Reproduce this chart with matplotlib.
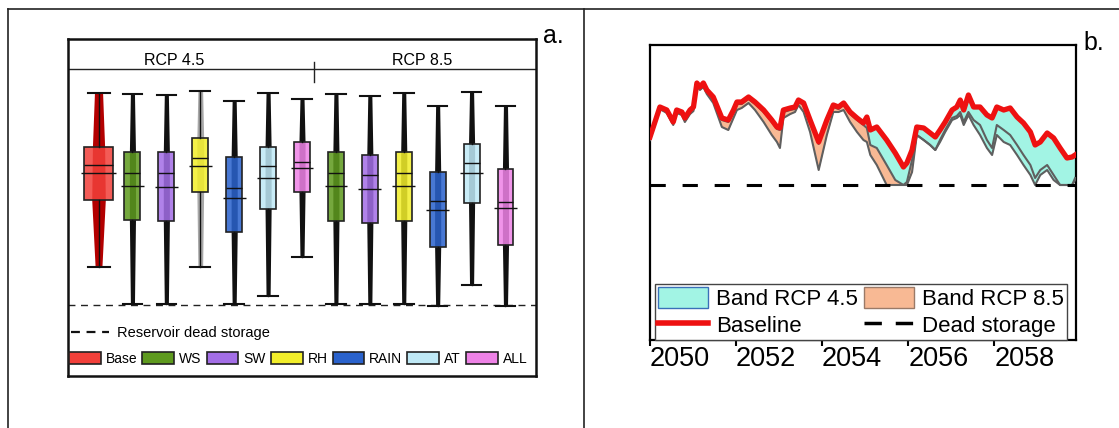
import matplotlib
matplotlib.use('Agg')
import matplotlib.pyplot as plt
from matplotlib.lines import Line2D
from matplotlib.patches import Patch
import numpy as np

plt.rcParams['font.family'] = ['Liberation Sans', 'DejaVu Sans']

# ---------------- Panel a data (storage, arbitrary units) ----------------
box_vars = ['Base', 'WS', 'SW', 'RH', 'RAIN', 'AT', 'ALL',
            'WS', 'SW', 'RH', 'RAIN', 'AT', 'ALL']
whishi = [283, 282, 281, 285, 275, 283, 277, 282, 280, 283, 270, 284, 270]
q3     = [229, 224, 224, 238, 219, 229, 234, 224, 221, 224, 204, 232, 207]
med    = [211, 203, 203, 218, 188, 210, 214, 203, 201, 203, 175, 213, 174]
mean   = [203, 190, 189, 210, 178, 198, 208, 190, 187, 190, 166, 203, 168]
q1     = [176, 156, 155, 184, 144, 167, 184, 155, 153, 155, 129, 173, 131]
whislo = [109, 72, 72, 109, 72, 80, 119, 72, 72, 72, 70, 91, 70]
dead_storage_a = 71
legend_vars = ['Base', 'WS', 'SW', 'RH', 'RAIN', 'AT', 'ALL']
group_labels = ['RCP 4.5', 'RCP 8.5']

# ---------------- Panel b data ----------------
years = [2050.00, 2050.23, 2050.39, 2050.54, 2050.62, 2050.74, 2050.81, 2050.93,
         2051.01, 2051.09, 2051.16, 2051.24, 2051.32, 2051.47, 2051.67, 2051.82,
         2051.94, 2052.02, 2052.13, 2052.29, 2052.44, 2052.64, 2052.83, 2052.95,
         2053.02, 2053.10, 2053.26, 2053.37, 2053.45, 2053.57, 2053.72, 2053.92,
         2054.11, 2054.26, 2054.38, 2054.50, 2054.65, 2054.81, 2054.96, 2055.04,
         2055.12, 2055.27, 2055.50, 2055.70, 2055.89, 2055.97, 2056.09, 2056.20,
         2056.36, 2056.51, 2056.63, 2056.74, 2056.86, 2057.02, 2057.13, 2057.21,
         2057.29, 2057.40, 2057.52, 2057.67, 2057.83, 2057.95, 2058.06, 2058.22,
         2058.37, 2058.53, 2058.68, 2058.84, 2058.95, 2059.07, 2059.23, 2059.38,
         2059.53, 2059.69, 2059.81, 2059.88]
baseline = [203, 233, 230, 218, 230, 228, 222, 230, 233, 257, 253, 257, 250, 243,
            222, 220, 230, 238, 238, 243, 238, 230, 220, 213, 212, 230, 232, 233,
            240, 237, 220, 198, 220, 235, 233, 237, 228, 222, 217, 223, 210, 213,
            200, 187, 173, 177, 190, 213, 212, 207, 203, 210, 218, 230, 233, 240,
            230, 245, 233, 233, 225, 222, 233, 230, 232, 223, 217, 208, 195, 198,
            207, 202, 192, 182, 183, 185]
lower_45 = [201, 231, 228, 216, 228, 226, 220, 228, 231, 255, 251, 255, 248, 241,
            220, 218, 228, 236, 236, 241, 236, 228, 218, 211, 210, 228, 230, 231,
            238, 235, 218, 196, 218, 233, 231, 235, 226, 220, 215, 212, 195, 192,
            175, 160, 155, 158, 180, 205, 200, 195, 190, 198, 208, 220, 222, 225,
            215, 225, 215, 205, 192, 185, 205, 198, 195, 185, 175, 165, 155, 165,
            170, 160, 155, 155, 155, 162]
lower_85 = [200, 231, 227, 215, 227, 225, 218, 226, 229, 254, 250, 253, 246, 237,
            213, 210, 222, 230, 232, 237, 230, 218, 205, 198, 192, 222, 226, 228,
            235, 228, 208, 170, 205, 228, 228, 230, 218, 208, 200, 198, 185, 175,
            155, 155, 155, 155, 168, 205, 200, 195, 190, 200, 210, 222, 224, 228,
            218, 228, 220, 215, 200, 192, 215, 210, 205, 195, 185, 175, 162, 170,
            175, 165, 155, 155, 155, 160]
dead_storage_b = 155
year_ticks = [2050, 2052, 2054, 2056, 2058]

# ---------------- styles ----------------
var_colors = {'Base': '#f2403a', 'WS': '#5e9a1e', 'SW': '#a36ee6', 'RH': '#f2ee2a',
              'RAIN': '#2a62cc', 'AT': '#bfe9f6', 'ALL': '#ee82e6'}

fig = plt.figure(figsize=(11.19, 4.28), dpi=100)

# outer table lines
fig.add_artist(Line2D([8 / 1119, 1], [1 - 9 / 428, 1 - 9 / 428], color='#222222', lw=1.2))
fig.add_artist(Line2D([8 / 1119, 8 / 1119], [0, 1 - 9 / 428], color='#222222', lw=1.2))
fig.add_artist(Line2D([584 / 1119, 584 / 1119], [0, 1 - 9 / 428], color='#222222', lw=1.2))

# ---------------- Panel a ----------------
ax1 = fig.add_axes([68 / 1119, 52 / 428, 468 / 1119, 337 / 428])
n = len(box_vars)
pos = np.arange(n)
widths = [0.86] + [0.47] * (n - 1)
capw = [0.65] + [0.58] * (n - 1)
stats = [dict(med=med[i], q1=q1[i], q3=q3[i], whislo=whislo[i], whishi=whishi[i],
              mean=mean[i], fliers=[]) for i in range(n)]

# scatter columns (data density) behind boxes
for i in range(n):
    if i == 0:
        col, hw = '#b30000', [0.10, 0.20, 0.18, 0.12]
    elif i == 3:
        col, hw = '#a8a8a8', [0.07, 0.10, 0.10, 0.07]
    else:
        col, hw = '#111111', [0.06, 0.09, 0.09, 0.06]
    ys = [whislo[i], q1[i], q3[i], whishi[i]]
    ax1.fill_betweenx(ys, [pos[i] - h for h in hw], [pos[i] + h for h in hw],
                      color=col, lw=0, zorder=1)

bp = ax1.bxp(stats, positions=pos, widths=widths, patch_artist=True,
             showfliers=False, showmeans=False, capwidths=capw,
             boxprops=dict(edgecolor='#222222', linewidth=1.2),
             medianprops=dict(color='#111111', linewidth=1.0),
             whiskerprops=dict(color='#111111', linewidth=1.0),
             capprops=dict(color='#111111', linewidth=1.5),
             manage_ticks=False, zorder=2)
for patch, v in zip(bp['boxes'], box_vars):
    patch.set_facecolor(matplotlib.colors.to_rgba(var_colors[v], 0.86))
ax1.hlines(mean, pos - np.array(widths) / 2 - 0.1, pos + np.array(widths) / 2 + 0.1,
           colors='#111111', lw=1.0, zorder=3)

ax1.axhline(dead_storage_a, color='#222222', lw=1.0, ls=(0, (5, 4)), zorder=0)
ax1.set_xlim(-0.9, 12.9)
ax1.set_ylim(0, 337)
ax1.set_xticks([])
ax1.set_yticks([])
for s in ax1.spines.values():
    s.set_linewidth(1.8)
    s.set_color('#111111')

# header
ax1.axhline(307, color='#222222', lw=1.0)
ax1.plot([0.526, 0.526], [0.872, 0.932], transform=ax1.transAxes, color='#222222', lw=1.0)
ax1.text(0.2265, 0.935, group_labels[0], transform=ax1.transAxes, ha='center',
         va='center', fontsize=11.5)
ax1.text(0.756, 0.935, group_labels[1], transform=ax1.transAxes, ha='center',
         va='center', fontsize=11.5)

leg1 = ax1.legend([Line2D([0], [0], color='#111111', lw=1.6, ls=(0, (4, 3)))],
                  ['Reservoir dead storage'], loc='center left',
                  bbox_to_anchor=(0.006, 0.1276), frameon=False, fontsize=10.5,
                  handlelength=2.6, handletextpad=0.55, borderpad=0, borderaxespad=0)
ax1.add_artist(leg1)
ax1.legend([Patch(facecolor=var_colors[v], edgecolor='#222222', lw=1.2) for v in legend_vars],
           legend_vars, ncol=7, loc='center left', bbox_to_anchor=(0.002, 0.0504),
           frameon=False, fontsize=10, handlelength=2.3, handleheight=1.0,
           handletextpad=0.35, columnspacing=0.36, borderpad=0, borderaxespad=0)
fig.text(543 / 1119, 1 - 43 / 428, 'a.', fontsize=18, ha='left', va='baseline')

# ---------------- Panel b ----------------
ax2 = fig.add_axes([650 / 1119, 88 / 428, 426 / 1119, 295 / 428])
cyan = '#a2f4e4'
peach = '#f8b994'
ax2.fill_between(years, lower_85, baseline, color=peach, lw=0, zorder=1)
ax2.fill_between(years, lower_45, baseline, color=cyan, lw=0, zorder=2)
ax2.plot(years, lower_85, color='#5f5f5f', lw=1.5, zorder=3)
ax2.plot(years, lower_45, color='#5f5f5f', lw=1.5, zorder=3)
ax2.axhline(dead_storage_b, color='black', lw=2.2, dashes=(5, 5.5), zorder=4)
ax2.plot(years, baseline, color='#ee1111', lw=3.8, zorder=5)
ax2.set_xlim(2050, 2059.9)
ax2.set_ylim(0, 295)
ax2.set_yticks([])
ax2.set_xticks(year_ticks)
ax2.set_xticklabels([str(y) for y in year_ticks], ha='left', fontsize=19.5)
ax2.tick_params(axis='x', direction='out', length=4, width=1.5, pad=0)
for s in ax2.spines.values():
    s.set_linewidth(1.6)
    s.set_color('black')

h_45 = Patch(facecolor=cyan, edgecolor='#3a70b8', lw=1.0)
h_85 = Patch(facecolor=peach, edgecolor='#9a7a68', lw=1.0)
h_base = Line2D([0], [0], color='#ee1111', lw=4)
h_dead = Line2D([0], [0], color='black', lw=2.5, dashes=(5, 4))
leg2 = ax2.legend([h_45, h_base, h_85, h_dead],
                  ['Band RCP 4.5', 'Baseline', 'Band RCP 8.5', 'Dead storage'],
                  ncol=2, loc='lower left', bbox_to_anchor=(0.012, 0.0),
                  fontsize=16, handlelength=2.25, handleheight=1.1,
                  handletextpad=0.33, columnspacing=0.3, labelspacing=0.15,
                  borderpad=0.15, borderaxespad=0, fancybox=False, framealpha=1)
leg2.get_frame().set_edgecolor('#444444')
leg2.get_frame().set_linewidth(1.0)
fig.text(1083 / 1119, 1 - 50 / 428, 'b.', fontsize=18, ha='left', va='baseline')

fig.savefig('out.png', dpi=100)
